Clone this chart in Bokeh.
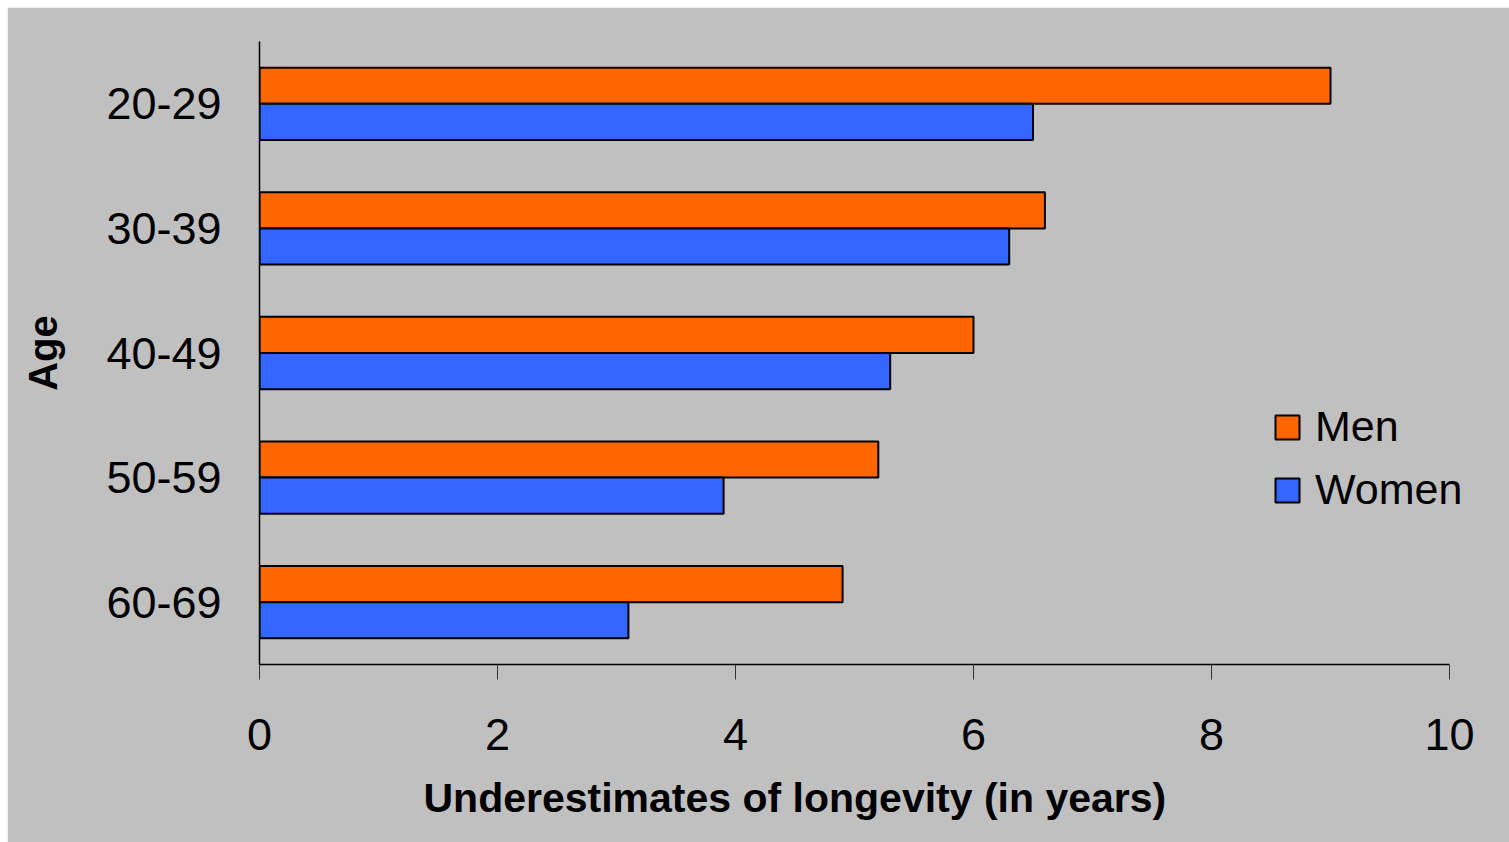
from bokeh.plotting import figure
from bokeh.models import FactorRange, Range1d, Legend, LegendItem, FixedTicker, Spacer, Title
from bokeh.layouts import column, row
from bokeh.transform import dodge
from bokeh.embed import file_html
from bokeh.resources import INLINE
from bokeh.models import ColumnDataSource

# Underestimates of longevity by age group (years)
ages = ["20-29", "30-39", "40-49", "50-59", "60-69"]
men = [9.0, 6.6, 6.0, 5.2, 4.9]
women = [6.5, 6.3, 5.3, 3.9, 3.1]
x_ticks = [0, 2, 4, 6, 8, 10]

FONT = "Liberation Sans"
BG = "#C0C0C0"

src = ColumnDataSource(dict(age=ages, men=men, women=women))

# The frame runs to the right edge so the legend has room; the axis stops at 10.
PX_PER_YEAR = 119
FRAME_W = 1502 - 252
p = figure(
    width=1502, height=835,
    y_range=FactorRange(factors=list(reversed(ages))),
    x_range=Range1d(0, FRAME_W / PX_PER_YEAR),
    output_backend="svg", toolbar_location=None,
    background_fill_color=BG, border_fill_color=BG,
    min_border_left=252, min_border_right=0,
    min_border_top=34, min_border_bottom=178,
    outline_line_color=BG, outline_line_width=2,
)

bar_h = 0.29
r_men = p.hbar(y=dodge("age", bar_h / 2, range=p.y_range), right="men", left=0,
               height=bar_h, source=src, fill_color="#FF6600",
               line_color="black", line_width=2)
r_women = p.hbar(y=dodge("age", -bar_h / 2, range=p.y_range), right="women", left=0,
                 height=bar_h, source=src, fill_color="#3366FF",
                 line_color="black", line_width=2)

p.xgrid.grid_line_color = None
p.ygrid.grid_line_color = None

# x axis
xa = p.xaxis[0]
xa.ticker = FixedTicker(ticks=x_ticks)
xa.bounds = (0, 10)
xa.minor_tick_line_color = None
xa.major_tick_in = 0
xa.major_tick_out = 15
xa.major_tick_line_color = "#333333"
xa.axis_line_color = "black"
xa.axis_line_width = 1.5
xa.major_label_text_font = FONT
xa.major_label_text_font_size = "45px"
xa.major_label_text_color = "black"
xa.major_label_standoff = 39

xtitle = Title(text="Underestimates of longevity (in years)", align="left", offset=164,
               text_font=FONT, text_font_size="41px", text_font_style="bold",
               text_color="black", standoff=41)
p.add_layout(xtitle, "below")

# y axis
ya = p.yaxis[0]
ya.major_tick_in = 0
ya.major_tick_out = 0
ya.minor_tick_line_color = None
ya.axis_line_color = "black"
ya.axis_line_width = 1.5
ya.major_label_text_font = FONT
ya.major_label_text_font_size = "45px"
ya.major_label_text_color = "black"
ya.major_label_standoff = 38
ya.axis_label = "Age"
ya.axis_label_text_font = FONT
ya.axis_label_text_font_size = "40px"
ya.axis_label_text_font_style = "bold"
ya.axis_label_text_color = "black"
ya.axis_label_standoff = 38

legend = Legend(
    items=[LegendItem(label="Men", renderers=[r_men]),
           LegendItem(label="Women", renderers=[r_women])],
    location=(1013, 150),
    background_fill_alpha=0, border_line_alpha=0,
    label_text_font=FONT, label_text_font_size="43px", label_text_color="black",
    glyph_width=30, glyph_height=30, padding=0, margin=0,
    spacing=14, label_standoff=13,
)
p.add_layout(legend)

layout = column(Spacer(height=7), row(Spacer(width=7), p))
layout.styles = {"background-color": "white"}

open("out.html", "w").write(file_html(layout, INLINE))
